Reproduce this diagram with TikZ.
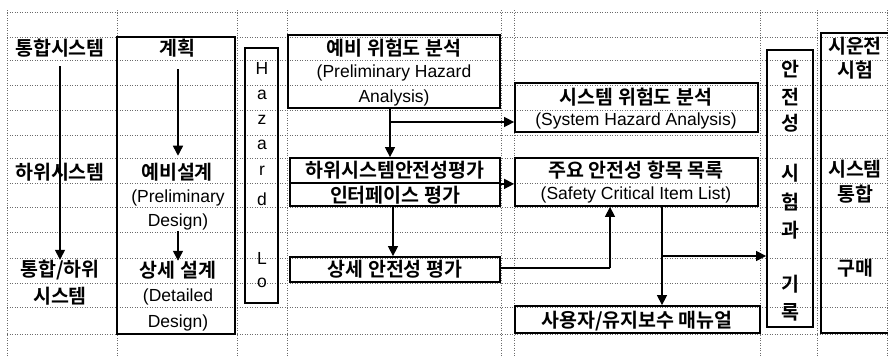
\documentclass[tikz,border=0pt]{standalone}
\usepackage{fontspec}
\setmainfont{Noto Sans CJK KR}[BoldFont=* Bold]
\newfontfamily\enf{Liberation Sans}
\usetikzlibrary{arrows.meta}
\tikzset{
  ko/.style={font=\fontsize{19.5}{22}\selectfont\bfseries, inner sep=0pt},
  en/.style={font=\enf\fontsize{17.5}{20}\selectfont, inner sep=0pt},
  box/.style={draw, line width=1.8pt, inner sep=0pt},
  grid/.style={gray!85!black, line width=0.6pt, dash pattern=on 1pt off 1.5pt},
  arr/.style={line width=1.4pt, -{Triangle[width=10pt,length=10pt]}},
  ln/.style={line width=1.4pt}
}
\begin{document}
\begin{tikzpicture}[x=1pt,y=-1pt]
\path[use as bounding box] (0,0) rectangle (888,357);
% grid
\foreach \y in {12,37,60,85,110,135,158,183,207,232,258,283,307,334}
  \draw[grid] (7,\y) -- (888,\y);
\foreach \x in {7,117,237,287,501,514,760,817,887}
  \draw[grid] (\x,10) -- (\x,357);
% boxes
\node[box, minimum width=118pt, minimum height=297pt] (plan) at (176,185.5) {};
\node[box, minimum width=33pt, minimum height=255pt] (hl) at (261.5,175.5) {};
\node[box, minimum width=212pt, minimum height=73pt] (pha) at (394,71.5) {};
\node[box, minimum width=243pt, minimum height=49pt] (sha) at (636.5,107.5) {};
\node[box, minimum width=210pt, minimum height=25pt] (sub1) at (395,170.5) {};
\node[box, minimum width=210pt, minimum height=23pt] (sub2) at (395,194.5) {};
\node[box, minimum width=243pt, minimum height=48pt] (sci) at (636.5,182) {};
\node[box, minimum width=210pt, minimum height=25pt] (dsa) at (395,269.5) {};
\node[box, minimum width=245pt, minimum height=27pt] (man) at (637.5,319.5) {};
\node[box, minimum width=46pt, minimum height=277pt] (safe) at (790,188.5) {};
\draw[line width=1.8pt] (895,33) -- (821,33) -- (821,333) -- (895,333);
% column 1
\node[ko] (c1a) at (60,48) {통합시스템};
\node[ko] (c1b) at (60,172) {하위시스템};
\node[ko] (c1c) at (60,270) {통합/하위};
\node[ko] (c1d) at (60,296) {시스템};
% column 2
\node[ko] (c2a) at (177,48) {계획};
\node[ko] (c2b) at (177,172) {예비설계};
\node[en] (c2c) at (178,198) {(Preliminary};
\node[en] (c2d) at (178,222) {Design)};
\node[ko] (c2e) at (178,270) {상세 설계};
\node[en] (c2f) at (178,297) {(Detailed};
\node[en] (c2g) at (178,323) {Design)};
% Hazard Lo
\foreach \ch/\yy [count=\i] in {H/68,a/95,z/120,a/145,r/171,d/199,L/258,o/283}
  \node[en] (hl\i) at (262,\yy) {\ch};
% PHA
\node[ko] (p1) at (394,48) {예비 위험도 분석};
\node[en] (p2) at (394,73) {(Preliminary Hazard};
\node[en] (p3) at (394,98) {Analysis)};
% SHA
\node[ko] (s1) at (636,97) {시스템 위험도 분석};
\node[en] (s2) at (636,121) {(System Hazard Analysis)};
% subsystem
\node[ko] (u1) at (395,170) {하위시스템안전성평가};
\node[ko] (u2) at (395,195) {인터페이스 평가};
% SCIL
\node[ko] (k1) at (636,170) {주요 안전성 항목 목록};
\node[en] (k2) at (636,195) {(Safety Critical Item List)};
% detailed
\node[ko] (d1) at (395,269) {상세 안전성 평가};
% manual
\node[ko] (m1) at (637,321) {사용자/유지보수 매뉴얼};
% safety test
\foreach \ch/\yy [count=\i] in {안/69,전/97,성/123,시/173,험/202,과/230,기/284,록/312}
  \node[ko] (st\i) at (790,\yy) {\ch};
% right column
\node[ko] (r1) at (855,46) {시운전};
\node[ko] (r2) at (855,70) {시험};
\node[ko] (r3) at (855,169) {시스템};
\node[ko] (r4) at (855,194) {통합};
\node[ko] (r5) at (855,268) {구매};
% arrows
\draw[arr, shorten <=9pt] (c1a.south) -- (c1c.north);
\draw[arr, shorten <=12pt, shorten >=7pt] ([xshift=1pt]c2a.south) -- ([xshift=1pt]c2b.north);
\draw[arr, shorten <=1pt] (c2d.south) -- (c2e.north);
\coordinate (b1) at (390,122);
\draw[arr] (pha.south -| b1) -- (sub1.north -| b1);
\draw[arr] (b1) -- (b1 -| sha.west);
\draw[arr] (sub1.south east) -- (sub1.south east -| sci.west);
\draw[arr] (sub2.south -| 393,0) -- (dsa.north -| 393,0);
\coordinate (b3) at (610,268);
\draw[ln] (dsa.east |- b3) -- (b3);
\draw[arr] (b3) -- (sci.south -| b3);
\coordinate (b2) at (662,256);
\draw[arr] (sci.south -| b2) -- (man.north -| b2);
\draw[arr] (b2) -- (b2 -| safe.west);
\end{tikzpicture}
\end{document}
